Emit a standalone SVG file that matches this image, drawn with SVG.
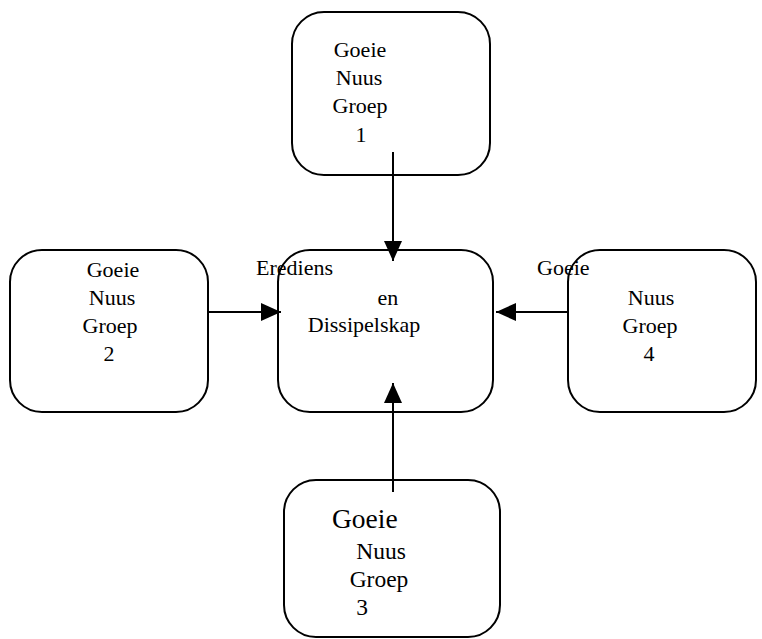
<svg xmlns="http://www.w3.org/2000/svg" width="762" height="639" viewBox="0 0 762 639">
<style>
.box{fill:#fff;stroke:#000;stroke-width:2}
.t{font-family:"Liberation Serif","Times New Roman",serif;font-size:22px;fill:#000;text-anchor:middle}
.ts{text-anchor:start}
.b3{font-size:23.5px}
.c{stroke:#000;stroke-width:2;fill:none}
</style>
<defs>
<marker id="ah" markerWidth="20" markerHeight="18" refX="20" refY="9" orient="auto" markerUnits="userSpaceOnUse">
<path d="M0,0 L20,9 L0,18 Z" fill="#000"/>
</marker>
</defs>
<rect width="762" height="639" fill="#fff"/>
<g id="n1">
<rect class="box" x="292" y="12" width="198" height="163" rx="32"/>
<text class="t" x="360" y="57">Goeie</text>
<text class="t" x="359" y="85">Nuus</text>
<text class="t" x="360" y="113">Groep</text>
<text class="t" x="361" y="142">1</text>
</g>
<g id="n2">
<rect class="box" x="10" y="250" width="198" height="162" rx="32"/>
<text class="t" x="113" y="277">Goeie</text>
<text class="t" x="112" y="305">Nuus</text>
<text class="t" x="110" y="333">Groep</text>
<text class="t" x="109" y="361">2</text>
</g>
<g id="center">
<rect class="box" x="278" y="250" width="215" height="162" rx="32"/>
<text class="t" x="388" y="305">en</text>
<text class="t" x="364" y="332">Dissipelskap</text>
</g>
<g id="n4">
<rect class="box" x="568" y="250" width="188" height="162" rx="32"/>
<text class="t" x="651" y="305">Nuus</text>
<text class="t" x="650" y="333">Groep</text>
<text class="t" x="649" y="361">4</text>
</g>
<g id="n3">
<rect class="box" x="284" y="480" width="216" height="157" rx="32"/>
<text class="t ts" x="332" y="528" style="font-size:27.5px">Goeie</text>
<text class="t b3" x="381" y="559">Nuus</text>
<text class="t b3" x="379" y="587">Groep</text>
<text class="t b3" x="362" y="615">3</text>
</g>
<g id="connectors">
<line class="c" x1="393" y1="152" x2="393" y2="261" marker-end="url(#ah)"/>
<line class="c" x1="208" y1="312" x2="281" y2="312" marker-end="url(#ah)"/>
<line class="c" x1="568" y1="312" x2="496" y2="312" marker-end="url(#ah)"/>
<line class="c" x1="393" y1="492" x2="393" y2="383" marker-end="url(#ah)"/>
</g>
<g id="labels">
<text class="t ts" x="256" y="275">Erediens</text>
<text class="t ts" x="537" y="275">Goeie</text>
</g>
</svg>
